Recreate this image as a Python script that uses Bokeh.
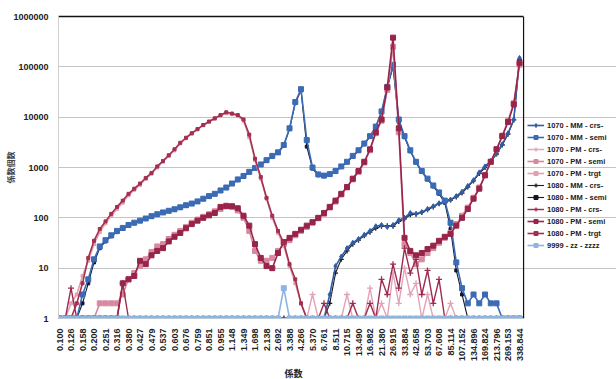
import numpy as np
from bokeh.plotting import figure
from bokeh.models import (Range1d, FixedTicker, Span, Legend, LegendItem, LinearAxis, Title)
from bokeh.embed import file_html
from bokeh.resources import INLINE

# ---- categories (particle size bins, one label every second plotted point) ----
size_labels = ["0.100", "0.126", "0.158", "0.200", "0.251", "0.316", "0.380", "0.427",
               "0.479", "0.537", "0.603", "0.676", "0.759", "0.851", "0.955", "1.148",
               "1.349", "1.698", "2.138", "2.692", "3.388", "4.266", "5.370", "6.761",
               "8.511", "10.715", "13.490", "16.982", "21.380", "26.915", "33.884",
               "42.658", "53.703", "67.608", "85.114", "107.152", "134.896", "169.824",
               "213.796", "269.153", "338.844"]

# ---- series values (count per bin, 81 bins) ----
mm1070_crs = [1, 1, 1, 1, 1, 1, 1, 1, 1, 1, 1, 1, 1, 1, 1, 1, 1, 1, 1, 1,
              1, 1, 1, 1, 1, 1, 1, 1, 1, 1, 1, 1, 1, 1, 1, 1, 1, 1, 1, 1,
              1, 1, 1, 1, 1, 1, 1, 3, 11, 17, 25, 32, 38, 46, 55, 68, 72, 66, 72, 90,
              100, 125, 120, 130, 150, 170, 195, 210, 230, 270, 330, 430, 560, 800, 1050, 1350,
              1900, 2900, 4800, 9000, 150000]
mm1070_semi = [1, 1, 1, 1, 3, 6, 15, 27, 36, 45, 55, 63, 72, 80, 88, 97, 108, 118, 128, 138,
               148, 162, 178, 192, 212, 240, 270, 300, 350, 400, 480, 580, 680, 820, 980, 1150,
               1400, 1700, 2000, 2800, 6000, 20000, 36000, 3500, 1000, 730, 690, 740, 850, 1050,
               1300, 1700, 2200, 3000, 4200, 6500, 13000, 40000, 110000, 9000, 4200, 2200, 1300,
               850, 600, 440, 320, 220, 80, 13, 4, 2, 3, 2, 3, 2, 2, 1, 1, 1, 1]
pm1070_crs = [1, 1, 1, 1, 1, 1, 1, 1, 1, 1, 1, 1, 1, 1, 1, 1, 1, 1, 1, 1,
              1, 1, 1, 1, 1, 1, 1, 1, 1, 1, 1, 1, 1, 1, 1, 1, 1, 1, 1, 1,
              1, 1, 1, 1, 3, 1, 1, 1, 1, 1, 3, 1, 1, 1, 4, 1, 2, 1, 8, 2,
              10, 3, 5, 1, 3, 1, 1, 1, 2, 1, 1, 1, 1, 1, 1, 1, 1, 1, 1, 1, 1]
pm1070_semi = [1, 1, 1, 1, 1, 1, 1, 2, 2, 2, 2, 3, 6, 8, 11, 15, 21, 27, 30, 38,
               46, 55, 66, 80, 92, 105, 118, 135, 150, 175, 165, 140, 100, 55, 22, 14,
               14, 16, 22, 30, 36, 45, 55, 66, 80, 98, 120, 160, 210, 290, 400, 580, 820,
               1250, 2200, 4800, 8500, 35000, 250000, 5000, 30, 20, 12, 15, 20, 25, 32, 40,
               50, 75, 110, 160, 250, 400, 700, 1300, 2300, 4300, 8500, 19000, 110000]
pm1070_trgt = [1, 1, 2, 3, 7, 14, 30, 52, 78, 110, 150, 200, 280, 360, 450, 590, 750, 1000,
               1300, 1700, 2200, 3000, 3800, 4700, 5700, 6900, 8000, 9300, 10800, 12000, 11500,
               10500, 8500, 4000, 1400, 600, 240, 100, 50, 28, 11, 5, 2, 1, 1, 1, 1, 1, 1, 1,
               1, 1, 1, 1, 1, 1, 1, 1, 1, 1, 1, 1, 1, 1, 1, 1, 1, 1, 1, 1, 1, 1, 1, 1, 1, 1,
               1, 1, 1, 1, 1]
mm1080_crs = [1, 1, 1, 1, 1, 1, 1, 1, 1, 1, 1, 1, 1, 1, 1, 1, 1, 1, 1, 1,
              1, 1, 1, 1, 1, 1, 1, 1, 1, 1, 1, 1, 1, 1, 1, 1, 1, 1, 1, 1,
              1, 1, 1, 1, 1, 1, 1, 2, 8, 15, 22, 30, 36, 44, 52, 62, 68, 70, 68, 85,
              95, 115, 118, 128, 145, 165, 190, 205, 225, 260, 310, 410, 540, 760, 1000, 1300,
              1850, 2800, 4600, 8800, 140000]
mm1080_semi = [1, 1, 1, 1, 2, 5, 13, 25, 34, 43, 52, 60, 70, 78, 86, 95, 104, 115, 125, 135,
               145, 158, 172, 188, 208, 235, 262, 295, 340, 390, 470, 560, 660, 800, 960, 1120,
               1350, 1650, 1950, 2700, 5800, 19000, 34000, 2600, 950, 700, 670, 720, 830, 1020,
               1270, 1650, 2150, 2900, 4100, 6300, 12500, 38000, 100000, 8000, 4000, 2100, 1250,
               820, 580, 420, 300, 200, 60, 9, 3, 1, 1, 1, 1, 1, 1, 1, 1, 1, 1]
pm1080_crs = [1, 1, 4, 1, 1, 1, 1, 1, 1, 1, 1, 5, 1, 1, 1, 1, 1, 1, 1, 1,
              1, 1, 1, 1, 1, 1, 1, 1, 1, 1, 1, 1, 1, 1, 1, 1, 1, 1, 1, 1,
              1, 1, 1, 1, 1, 1, 2, 1, 1, 1, 1, 2, 1, 1, 2, 1, 6, 3, 12, 4,
              25, 8, 15, 3, 9, 2, 6, 1, 1, 1, 1, 1, 1, 1, 1, 1, 1, 1, 1, 1, 1]
pm1080_semi = [1, 1, 1, 1, 1, 1, 1, 1, 1, 1, 1, 5, 6, 7, 14, 12, 18, 22, 25, 34,
               42, 50, 62, 75, 88, 100, 112, 125, 165, 170, 170, 155, 110, 70, 30, 16,
               11, 10, 20, 33, 40, 48, 58, 70, 82, 100, 125, 165, 220, 300, 410, 600, 850,
               1300, 2300, 5000, 9000, 39000, 380000, 6000, 40, 22, 18, 20, 24, 28, 35, 42,
               48, 70, 100, 150, 240, 380, 700, 1300, 2300, 4200, 8000, 18000, 120000]
pm1080_trgt = [1, 1, 1, 2, 5, 16, 35, 60, 85, 120, 165, 220, 300, 380, 480, 620, 780, 1050,
               1350, 1750, 2300, 3100, 3900, 4800, 5800, 7000, 8200, 9500, 11000, 12500, 11800,
               11000, 9000, 4500, 1500, 650, 250, 110, 55, 32, 12, 6, 2, 1, 1, 1, 1, 1, 1, 1,
               1, 1, 1, 1, 1, 1, 1, 1, 1, 1, 1, 1, 1, 1, 1, 1, 1, 1, 1, 1, 1, 1, 1, 1, 1, 1,
               1, 1, 1, 1, 1]
zz9999 = [1, 1, 1, 1, 1, 1, 1, 1, 1, 1, 1, 1, 1, 1, 1, 1, 1, 1, 1, 1,
          1, 1, 1, 1, 1, 1, 1, 1, 1, 1, 1, 1, 1, 1, 1, 1, 1, 1, 1, 4,
          1, 1, 1, 1, 1, 1, 1, 1, 1, 1, 1, 1, 1, 1, 1, 1, 1, 1, 1, 1,
          1, 1, 1, 1, 1, 1, 1, 1, 1, 1, 1, 1, 1, 1, 1, 1, 1, 1, 1, 1, 1]

# name, values, colour, marker, marker size, line width, draw order
series = [
    ("1070 - MM - crs-", mm1070_crs, "#2F5DA3", "diamond", 5, 1.6, 2),
    ("1070 - MM - semi", mm1070_semi, "#3B6BB4", "square", 5, 1.6, 3),
    ("1070 - PM - crs-", pm1070_crs, "#E4A3B6", "cross", 6, 1.4, 4),
    ("1070 - PM - semi", pm1070_semi, "#D8889F", "square", 5, 1.6, 5),
    ("1070 - PM - trgt", pm1070_trgt, "#E0A0B2", "square", 3, 1.6, 6),
    ("1080 - MM - crs-", mm1080_crs, "#1C1C28", "cross", 5, 1.1, 0),
    ("1080 - MM - semi", mm1080_semi, "#14142A", "square", 3, 1.1, 1),
    ("1080 - PM - crs-", pm1080_crs, "#9E2B50", "cross", 6, 1.4, 7),
    ("1080 - PM - semi", pm1080_semi, "#972449", "square", 5, 1.6, 8),
    ("1080 - PM - trgt", pm1080_trgt, "#A3304F", "square", 3, 1.6, 9),
    ("9999 - zz - zzzz", zz9999, "#8EB4E3", "square", 5, 1.6, 10),
]

n_bins = len(mm1070_crs)
pos = np.arange(n_bins) / 2.0          # two plotted bins per labelled bin
label_pos = list(range(len(size_labels)))
X_END = 40.35                           # right edge of the plotting area

FONT = "Liberation Sans"

p = figure(width=616, height=379, y_axis_type="log",
           x_range=Range1d(-0.087, 48.43), y_range=Range1d(1, 1000000),
           output_backend="svg", toolbar_location=None,
           min_border_left=58, min_border_right=0, min_border_top=16, min_border_bottom=49)
p.outline_line_color = None
p.background_fill_color = "white"
p.border_fill_color = "white"

# axes
p.xaxis.ticker = FixedTicker(ticks=label_pos)
p.xaxis.major_label_overrides = {i: s for i, s in enumerate(size_labels)}
p.xaxis.major_label_orientation = np.pi / 2
p.xaxis.major_tick_line_color = None
p.xaxis.minor_tick_line_color = None
p.xaxis.axis_line_color = "#B9C9D6"
p.xaxis.bounds = (-0.087, X_END)
p.xaxis.major_label_standoff = 4

yticks = [1, 10, 100, 1000, 10000, 100000, 1000000]
p.yaxis.ticker = FixedTicker(ticks=yticks)
p.yaxis.major_label_overrides = {t: str(t) for t in yticks}
p.yaxis.major_tick_line_color = None
p.yaxis.minor_tick_line_color = None
p.yaxis.axis_line_color = "#D0D0D0"
p.yaxis.major_label_standoff = 4
p.yaxis.axis_label = "係数個数"
p.yaxis.axis_label_text_font = "Noto Sans CJK JP"
p.yaxis.axis_label_text_font_style = "bold"
p.yaxis.axis_label_text_font_size = "8px"
p.yaxis.axis_label_standoff = -6

for ax in (p.xaxis, p.yaxis):
    ax.major_label_text_font = FONT
    ax.major_label_text_font_size = "9px"
    ax.major_label_text_font_style = "bold"
    ax.major_label_text_color = "#222222"

p.xgrid.grid_line_color = None
p.ygrid.grid_line_color = "#C4C4C4"
p.ygrid.grid_line_width = 1
p.ygrid.bounds = (-0.087, X_END)

# plot-area top / right border
top_axis = LinearAxis(ticker=FixedTicker(ticks=[]), bounds=(-0.087, X_END),
                      axis_line_color="#111111", axis_line_width=1.5,
                      major_label_text_font_size="0px", major_tick_line_color=None,
                      minor_tick_line_color=None)
p.add_layout(top_axis, "above")
p.add_layout(Span(location=X_END, dimension="height", line_color="#111111", line_width=1.2))

renderers = {}
for name, vals, color, marker, msize, lw, order in sorted(series, key=lambda s: s[6]):
    r1 = p.line(pos, vals, line_color=color, line_width=lw)
    if marker == "cross":
        r2 = p.scatter(pos, vals, marker=marker, size=msize, line_color=color, line_width=1.3)
    else:
        r2 = p.scatter(pos, vals, marker=marker, size=msize, fill_color=color, line_color=color)
    renderers[name] = [r1, r2]

items = [LegendItem(label=s[0], renderers=renderers[s[0]]) for s in series]
legend = Legend(items=items, location=(469, 68), orientation="vertical",
                label_text_font=FONT, label_text_font_size="7.5px", label_text_font_style="bold",
                label_text_color="#222222", glyph_width=17, glyph_height=10,
                label_height=10, spacing=2, label_standoff=3, padding=0, margin=0,
                border_line_color=None, background_fill_alpha=0)
p.add_layout(legend)

p.add_layout(Title(text="係数", align="left", offset=226, text_font="Noto Sans CJK JP",
                   text_font_size="9px", text_font_style="bold", text_color="#222222",
                   standoff=0), "below")

open("out.html", "w").write(file_html(p, INLINE))
